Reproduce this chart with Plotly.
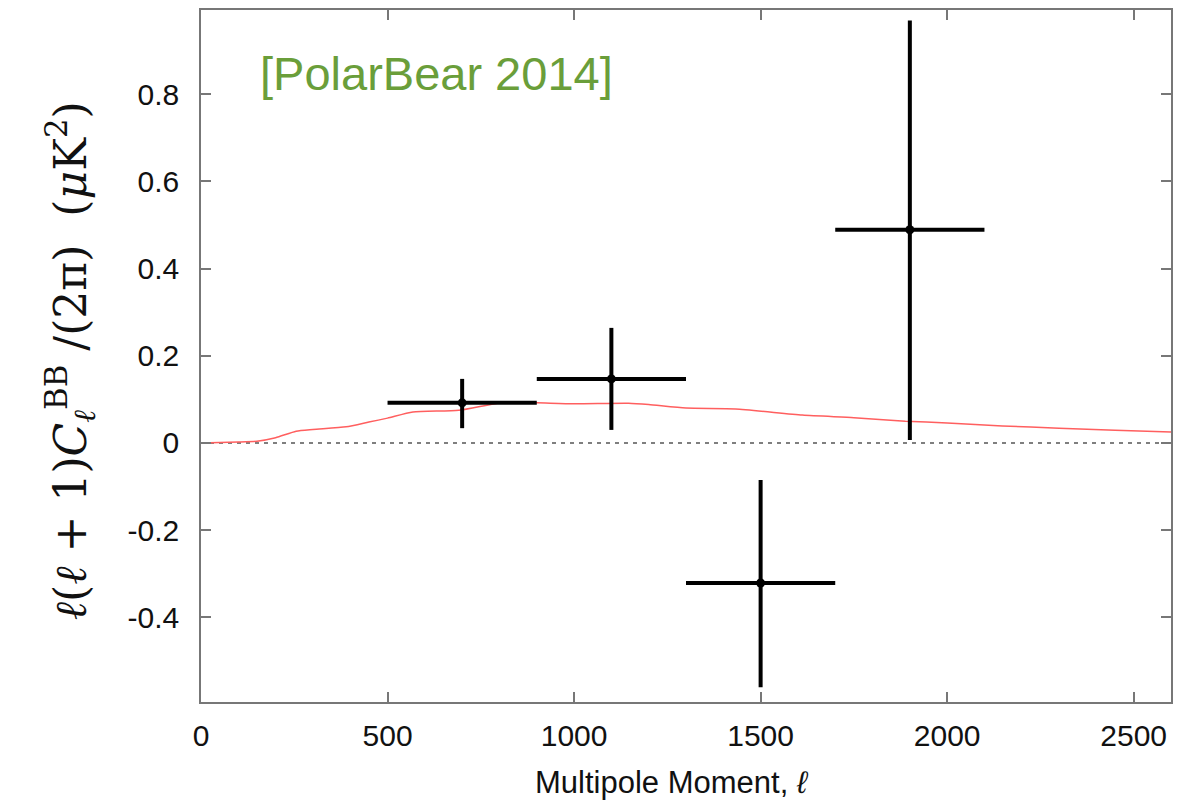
import plotly.graph_objects as go

# Data points (bandpowers)
ell_centers = [700, 1100, 1500, 1900]
ell_halfwidth = [200, 200, 200, 200]
bb_values = [0.092, 0.147, -0.321, 0.489]
bb_err_plus = [0.055, 0.117, 0.236, 0.480]
bb_err_minus = [0.058, 0.117, 0.239, 0.482]

# Theory lensing BB curve
theory_ell = [0, 100, 150, 200, 255, 300, 389, 450, 500, 568, 691, 809, 900, 1000, 1146,
              1200, 1300, 1433, 1612, 1750, 1888, 2000, 2148, 2300, 2450, 2600]
theory_bb = [0.0, 0.002, 0.004, 0.012, 0.027, 0.031, 0.037, 0.048, 0.057, 0.071, 0.075,
             0.093, 0.092, 0.090, 0.091, 0.088, 0.080, 0.078, 0.064, 0.058, 0.050, 0.046,
             0.039, 0.034, 0.029, 0.025]

x_ticks = [0, 500, 1000, 1500, 2000, 2500]
y_ticks = [-0.4, -0.2, 0, 0.2, 0.4, 0.6, 0.8]
y_ticklabels = ["-0.4", "-0.2", "0", "0.2", "0.4", "0.6", "0.8"]

L, R, T, B = 201, 1173, 10, 702
W, H = R - L, B - T

fig = go.Figure()

fig.add_trace(go.Scatter(x=[0, 2600], y=[0, 0], mode="lines",
                         line=dict(color="#555555", width=1.3, dash="4px,5px"),
                         hoverinfo="skip", showlegend=False))

fig.add_trace(go.Scatter(x=theory_ell, y=theory_bb, mode="lines",
                         line=dict(color="#ff5f5f", width=1.5, shape="spline", smoothing=0.6),
                         showlegend=False))

fig.add_trace(go.Scatter(
    x=ell_centers, y=bb_values, mode="markers",
    marker=dict(color="black", size=9),
    error_x=dict(type="data", array=ell_halfwidth, color="black", thickness=4, width=0),
    error_y=dict(type="data", array=bb_err_plus, arrayminus=bb_err_minus,
                 color="black", thickness=4, width=0),
    showlegend=False))

tickfont = dict(family="Liberation Sans, Arial, sans-serif", size=30, color="#111111")

fig.update_xaxes(range=[0, 2600], tickvals=x_ticks, ticks="inside", ticklen=10,
                 tickcolor="#777777", tickwidth=1.5, mirror="ticks", showline=True,
                 linecolor="#777777", linewidth=1.5, showgrid=False, zeroline=False,
                 tickfont=tickfont, ticklabelstandoff=6)
fig.update_yaxes(range=[-0.594, 0.993], tickvals=y_ticks, ticktext=y_ticklabels,
                 ticks="inside", ticklen=10, tickcolor="#777777", tickwidth=1.5,
                 mirror="ticks", showline=True, linecolor="#777777", linewidth=1.5,
                 showgrid=False, zeroline=False, tickfont=tickfont, ticklabelstandoff=14)

fig.add_annotation(x=(673 - L) / W, y=(B - 783) / H, xref="paper", yref="paper",
                   xanchor="center", yanchor="middle", showarrow=False,
                   text="Multipole Moment, <i>ℓ</i>",
                   font=dict(family="Liberation Sans, Arial", size=31, color="#111111"))

fig.add_annotation(x=(70 - L) / W, y=(B - 361) / H, xref="paper", yref="paper",
                   xanchor="center", yanchor="middle", showarrow=False, textangle=-90,
                   text="<i>ℓ</i>(<i>ℓ</i> + 1)<i>C</i><sub><i>ℓ</i></sub><sup>BB</sup> /(2π)  (<i>μ</i>K<sup>2</sup>)",
                   font=dict(family="DejaVu Serif, Liberation Serif, serif", size=44,
                             color="#111111"))

fig.add_annotation(x=(258 - L) / W, y=(B - 73) / H,
                   xref="paper", yref="paper", xanchor="left", yanchor="middle",
                   showarrow=False, text="[PolarBear 2014]",
                   font=dict(family="Liberation Sans, Arial, sans-serif", size=47,
                             color="#6a9e3a"))

fig.update_layout(width=1181, height=806, margin=dict(l=L, r=1181 - R, t=T, b=806 - B),
                  plot_bgcolor="white", paper_bgcolor="white", showlegend=False)

fig.write_html("out.html")
